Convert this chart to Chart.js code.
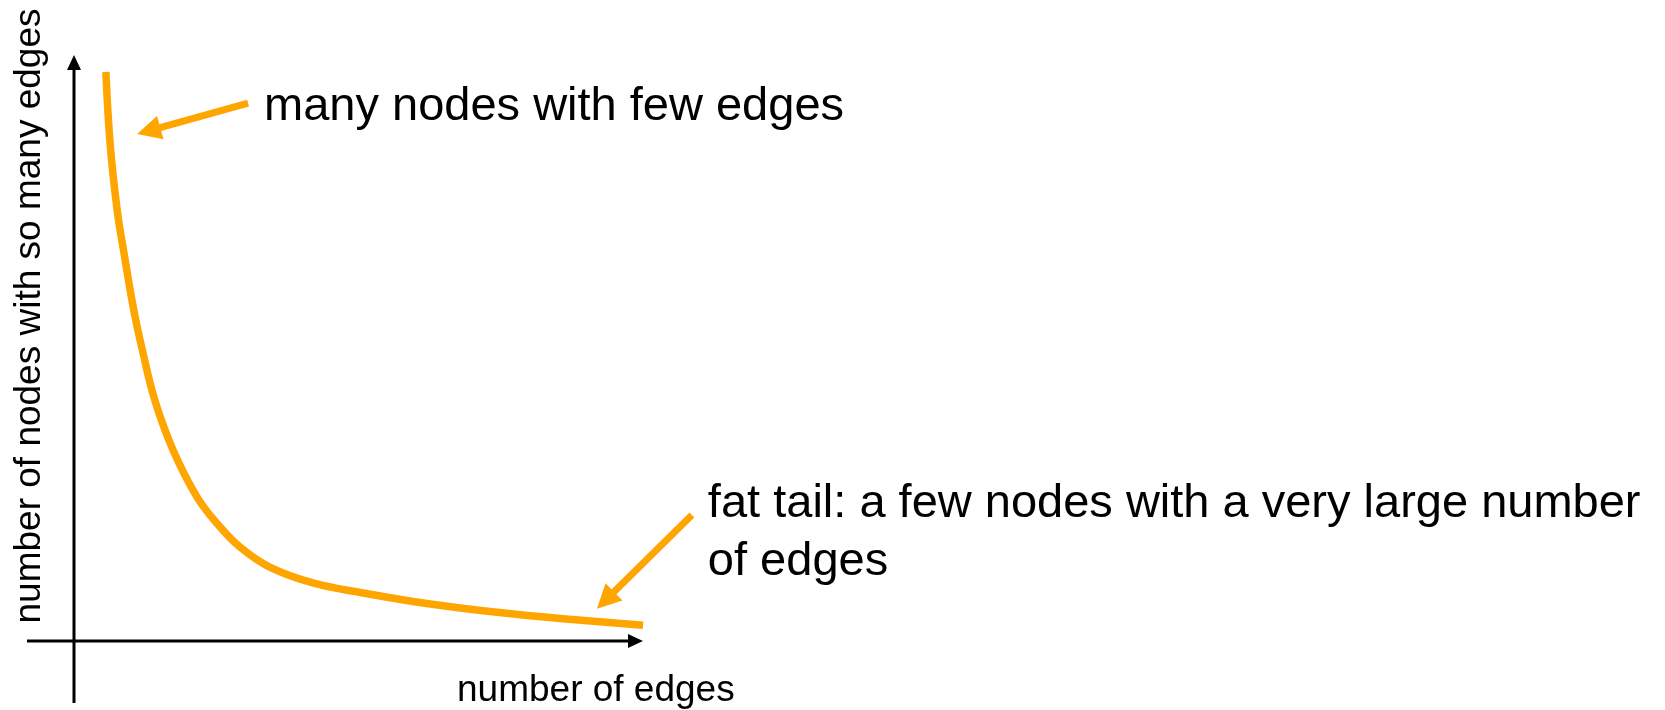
<!DOCTYPE html>
<html lang="en">
<head>
  <meta charset="UTF-8">
  <title>Degree distribution – fat tail</title>
  <script src="https://cdn.jsdelivr.net/npm/chart.js"></script>
  <style>
    html,body{margin:0;padding:0;background:#fff}
    #wrap{width:1665px;height:710px}
  </style>
</head>
<body>
<div id="wrap"><canvas id="degreeChart" width="1665" height="710"></canvas></div>

<script>
// degree distribution sketch (arbitrary units, 0..100 on both axes)
const edgeCount = [5.6, 6.0, 6.6, 7.7, 8.7, 10.5, 12.0, 14.2, 17.4, 21.6, 25.1, 29.2, 34.4, 42.0, 50.8, 62.6, 74.3, 85.9, 100];
const nodeCount = [97.1, 89.7, 82.1, 72.7, 66.7, 56.5, 49.7, 41.1, 32.6, 24.6, 20.1, 16.0, 12.6, 9.9, 8.2, 6.3, 4.9, 3.8, 2.7];

const xTitle = 'number of edges';
const yTitle = 'number of nodes with so many edges';

// callouts: text lines at [x, y] (left edge, baseline) in data units
const noteLines = [
  {text:'many nodes with few edges', at:[33.4, 88.9]},
  {text:'fat tail: a few nodes with a very large number', at:[111.4, 21.2]},
  {text:'of edges', at:[111.4, 11.2]}
];
// pointer arrows: tail -> tip, data units
const pointers = [
  {from:[30.6, 91.8], to:[11.1, 86.5]},
  {from:[108.6, 21.5], to:[91.9, 5.5]}
];

const ORANGE = '#FFA500';

function drawArrow(ctx, x1, y1, x2, y2, width, headLen, headHalf, color){
  const ang = Math.atan2(y2 - y1, x2 - x1);
  const bx = x2 - Math.cos(ang) * headLen, by = y2 - Math.sin(ang) * headLen;
  ctx.strokeStyle = color; ctx.fillStyle = color; ctx.lineWidth = width; ctx.lineCap = 'butt';
  ctx.beginPath(); ctx.moveTo(x1, y1); ctx.lineTo(bx + Math.cos(ang) * 2, by + Math.sin(ang) * 2); ctx.stroke();
  ctx.beginPath();
  ctx.moveTo(x2, y2);
  ctx.lineTo(bx + Math.sin(ang) * headHalf, by - Math.cos(ang) * headHalf);
  ctx.lineTo(bx - Math.sin(ang) * headHalf, by + Math.cos(ang) * headHalf);
  ctx.closePath(); ctx.fill();
}

const sketchAxes = {
  id:'sketchAxes',
  beforeDatasetsDraw(chart){
    const {ctx, scales:{x, y}} = chart;
    const x0 = x.getPixelForValue(0), y0 = y.getPixelForValue(0);
    ctx.save();
    // y axis runs a bit below the origin, x axis a bit left of it
    drawArrow(ctx, x0, y0 + 62, x0, y.getPixelForValue(100), 3, 15, 7, '#000');
    drawArrow(ctx, x0 - 47, y0, x.getPixelForValue(100), y0, 3, 15, 7, '#000');

    ctx.fillStyle = '#000';
    ctx.font = '37px "Liberation Sans", Arial, sans-serif';
    ctx.textBaseline = 'alphabetic';
    ctx.textAlign = 'left';
    ctx.fillText(xTitle, x0 + 383, y0 + 60);

    ctx.translate(x0 - 34, 316);
    ctx.rotate(-Math.PI / 2);
    ctx.textAlign = 'center';
    ctx.fillText(yTitle, 0, 0);
    ctx.restore();
  },
  afterDatasetsDraw(chart){
    const {ctx, scales:{x, y}} = chart;
    ctx.save();
    pointers.forEach(p => {
      drawArrow(ctx,
        x.getPixelForValue(p.from[0]), y.getPixelForValue(p.from[1]),
        x.getPixelForValue(p.to[0]), y.getPixelForValue(p.to[1]),
        7, 24, 12, ORANGE);
    });
    ctx.fillStyle = '#000';
    ctx.font = '47px "Liberation Sans", Arial, sans-serif';
    ctx.textAlign = 'left';
    ctx.textBaseline = 'alphabetic';
    noteLines.forEach(n => {
      ctx.fillText(n.text, x.getPixelForValue(n.at[0]), y.getPixelForValue(n.at[1]));
    });
    ctx.restore();
  }
};

new Chart(document.getElementById('degreeChart'), {
  type:'line',
  data:{
    datasets:[{
      data: edgeCount.map((e, i) => ({x:e, y:nodeCount[i]})),
      borderColor: ORANGE,
      borderWidth: 7.5,
      borderCapStyle: 'butt',
      borderJoinStyle: 'round',
      pointRadius: 0,
      fill: false,
      tension: 0.4,
      clip: false
    }]
  },
  options:{
    responsive:false,
    animation:false,
    layout:{padding:{left:74, right:1022, top:55, bottom:69}},
    plugins:{legend:{display:false}, tooltip:{enabled:false}},
    scales:{
      x:{type:'linear', min:0, max:100, display:false},
      y:{type:'linear', min:0, max:100, display:false}
    }
  },
  plugins:[sketchAxes]
});
</script>
</body>
</html>
